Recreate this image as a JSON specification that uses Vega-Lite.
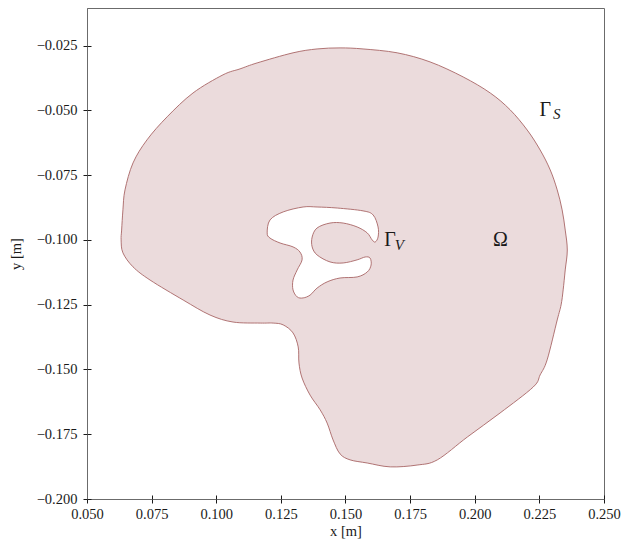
{
  "$schema": "https://vega.github.io/schema/vega-lite/v6.json",
  "width": 517,
  "height": 491,
  "autosize": "none",
  "padding": {"left": 87, "top": 8, "right": 18, "bottom": 48},
  "background": "white",
  "config": {
    "view": {"stroke": "#6b6b6b", "strokeWidth": 1},
    "font": "Liberation Serif",
    "axis": {
      "grid": false,
      "domainColor": "#6b6b6b",
      "tickColor": "#1a1a1a",
      "tickSize": 4,
      "labelFont": "Liberation Serif",
      "labelFontSize": 14.5,
      "labelColor": "#1a1a1a",
      "labelFlush": false,
      "labelOverlap": false,
      "titleFont": "Liberation Serif",
      "titleFontSize": 14.5,
      "titleFontWeight": "normal",
      "titleColor": "#1a1a1a"
    }
  },
  "resolve": {"axis": {"x": "independent", "y": "independent"}},
  "datasets": {
    "shape": [
      {"part": "outer", "i": 1, "x": 0.0632, "y": -0.1000},
      {"part": "outer", "i": 2, "x": 0.0634, "y": -0.0962},
      {"part": "outer", "i": 3, "x": 0.0639, "y": -0.0884},
      {"part": "outer", "i": 4, "x": 0.0647, "y": -0.0807},
      {"part": "outer", "i": 5, "x": 0.0678, "y": -0.0703},
      {"part": "outer", "i": 6, "x": 0.0732, "y": -0.0614},
      {"part": "outer", "i": 7, "x": 0.0810, "y": -0.0525},
      {"part": "outer", "i": 8, "x": 0.0910, "y": -0.0433},
      {"part": "outer", "i": 9, "x": 0.1026, "y": -0.0363},
      {"part": "outer", "i": 10, "x": 0.1092, "y": -0.0340},
      {"part": "outer", "i": 11, "x": 0.1158, "y": -0.0317},
      {"part": "outer", "i": 12, "x": 0.1297, "y": -0.0278},
      {"part": "outer", "i": 13, "x": 0.1390, "y": -0.0263},
      {"part": "outer", "i": 14, "x": 0.1479, "y": -0.0259},
      {"part": "outer", "i": 15, "x": 0.1568, "y": -0.0263},
      {"part": "outer", "i": 16, "x": 0.1700, "y": -0.0278},
      {"part": "outer", "i": 17, "x": 0.1827, "y": -0.0313},
      {"part": "outer", "i": 18, "x": 0.1955, "y": -0.0371},
      {"part": "outer", "i": 19, "x": 0.2060, "y": -0.0433},
      {"part": "outer", "i": 20, "x": 0.2137, "y": -0.0498},
      {"part": "outer", "i": 21, "x": 0.2203, "y": -0.0576},
      {"part": "outer", "i": 22, "x": 0.2253, "y": -0.0653},
      {"part": "outer", "i": 23, "x": 0.2292, "y": -0.0730},
      {"part": "outer", "i": 24, "x": 0.2319, "y": -0.0807},
      {"part": "outer", "i": 25, "x": 0.2338, "y": -0.0884},
      {"part": "outer", "i": 26, "x": 0.2350, "y": -0.0962},
      {"part": "outer", "i": 27, "x": 0.2358, "y": -0.1039},
      {"part": "outer", "i": 28, "x": 0.2350, "y": -0.1116},
      {"part": "outer", "i": 29, "x": 0.2342, "y": -0.1193},
      {"part": "outer", "i": 30, "x": 0.2334, "y": -0.1251},
      {"part": "outer", "i": 31, "x": 0.2319, "y": -0.1309},
      {"part": "outer", "i": 32, "x": 0.2280, "y": -0.1463},
      {"part": "outer", "i": 33, "x": 0.2253, "y": -0.1521},
      {"part": "outer", "i": 34, "x": 0.2226, "y": -0.1568},
      {"part": "outer", "i": 35, "x": 0.2098, "y": -0.1668},
      {"part": "outer", "i": 36, "x": 0.1971, "y": -0.1761},
      {"part": "outer", "i": 37, "x": 0.1855, "y": -0.1849},
      {"part": "outer", "i": 38, "x": 0.1777, "y": -0.1869},
      {"part": "outer", "i": 39, "x": 0.1673, "y": -0.1876},
      {"part": "outer", "i": 40, "x": 0.1584, "y": -0.1861},
      {"part": "outer", "i": 41, "x": 0.1518, "y": -0.1849},
      {"part": "outer", "i": 42, "x": 0.1479, "y": -0.1826},
      {"part": "outer", "i": 43, "x": 0.1452, "y": -0.1772},
      {"part": "outer", "i": 44, "x": 0.1429, "y": -0.1707},
      {"part": "outer", "i": 45, "x": 0.1402, "y": -0.1656},
      {"part": "outer", "i": 46, "x": 0.1363, "y": -0.1599},
      {"part": "outer", "i": 47, "x": 0.1332, "y": -0.1533},
      {"part": "outer", "i": 48, "x": 0.1320, "y": -0.1475},
      {"part": "outer", "i": 49, "x": 0.1317, "y": -0.1413},
      {"part": "outer", "i": 50, "x": 0.1297, "y": -0.1359},
      {"part": "outer", "i": 51, "x": 0.1259, "y": -0.1328},
      {"part": "outer", "i": 52, "x": 0.1220, "y": -0.1321},
      {"part": "outer", "i": 53, "x": 0.1170, "y": -0.1321},
      {"part": "outer", "i": 54, "x": 0.1065, "y": -0.1317},
      {"part": "outer", "i": 55, "x": 0.0976, "y": -0.1290},
      {"part": "outer", "i": 56, "x": 0.0872, "y": -0.1232},
      {"part": "outer", "i": 57, "x": 0.0744, "y": -0.1155},
      {"part": "outer", "i": 58, "x": 0.0678, "y": -0.1104},
      {"part": "outer", "i": 59, "x": 0.0639, "y": -0.1050},
      {"part": "hole", "i": 1, "x": 0.1197, "y": -0.0973},
      {"part": "hole", "i": 2, "x": 0.1208, "y": -0.0923},
      {"part": "hole", "i": 3, "x": 0.1259, "y": -0.0892},
      {"part": "hole", "i": 4, "x": 0.1336, "y": -0.0873},
      {"part": "hole", "i": 5, "x": 0.1390, "y": -0.0873},
      {"part": "hole", "i": 6, "x": 0.1468, "y": -0.0877},
      {"part": "hole", "i": 7, "x": 0.1568, "y": -0.0888},
      {"part": "hole", "i": 8, "x": 0.1607, "y": -0.0904},
      {"part": "hole", "i": 9, "x": 0.1626, "y": -0.0950},
      {"part": "hole", "i": 10, "x": 0.1626, "y": -0.0989},
      {"part": "hole", "i": 11, "x": 0.1615, "y": -0.1008},
      {"part": "hole", "i": 12, "x": 0.1603, "y": -0.1000},
      {"part": "hole", "i": 13, "x": 0.1584, "y": -0.0973},
      {"part": "hole", "i": 14, "x": 0.1545, "y": -0.0950},
      {"part": "hole", "i": 15, "x": 0.1491, "y": -0.0935},
      {"part": "hole", "i": 16, "x": 0.1440, "y": -0.0935},
      {"part": "hole", "i": 17, "x": 0.1390, "y": -0.0954},
      {"part": "hole", "i": 18, "x": 0.1371, "y": -0.0989},
      {"part": "hole", "i": 19, "x": 0.1371, "y": -0.1027},
      {"part": "hole", "i": 20, "x": 0.1390, "y": -0.1058},
      {"part": "hole", "i": 21, "x": 0.1440, "y": -0.1085},
      {"part": "hole", "i": 22, "x": 0.1491, "y": -0.1089},
      {"part": "hole", "i": 23, "x": 0.1545, "y": -0.1077},
      {"part": "hole", "i": 24, "x": 0.1576, "y": -0.1066},
      {"part": "hole", "i": 25, "x": 0.1595, "y": -0.1070},
      {"part": "hole", "i": 26, "x": 0.1599, "y": -0.1097},
      {"part": "hole", "i": 27, "x": 0.1584, "y": -0.1124},
      {"part": "hole", "i": 28, "x": 0.1545, "y": -0.1143},
      {"part": "hole", "i": 29, "x": 0.1479, "y": -0.1147},
      {"part": "hole", "i": 30, "x": 0.1429, "y": -0.1162},
      {"part": "hole", "i": 31, "x": 0.1390, "y": -0.1186},
      {"part": "hole", "i": 32, "x": 0.1363, "y": -0.1213},
      {"part": "hole", "i": 33, "x": 0.1336, "y": -0.1224},
      {"part": "hole", "i": 34, "x": 0.1313, "y": -0.1220},
      {"part": "hole", "i": 35, "x": 0.1297, "y": -0.1193},
      {"part": "hole", "i": 36, "x": 0.1297, "y": -0.1155},
      {"part": "hole", "i": 37, "x": 0.1313, "y": -0.1116},
      {"part": "hole", "i": 38, "x": 0.1332, "y": -0.1077},
      {"part": "hole", "i": 39, "x": 0.1324, "y": -0.1047},
      {"part": "hole", "i": 40, "x": 0.1297, "y": -0.1027},
      {"part": "hole", "i": 41, "x": 0.1247, "y": -0.1012},
      {"part": "hole", "i": 42, "x": 0.1208, "y": -0.0993}
    ],
    "labels": [
      {"kind": "main", "x": 0.2250, "y": -0.0500, "text": "Γ"},
      {"kind": "sub", "x": 0.2303, "y": -0.0515, "text": "S"},
      {"kind": "main", "x": 0.1650, "y": -0.1000, "text": "Γ"},
      {"kind": "sub", "x": 0.1691, "y": -0.1020, "text": "V"},
      {"kind": "main", "x": 0.2071, "y": -0.1000, "text": "Ω"}
    ]
  },
  "layer": [
    {
      "data": {"name": "shape"},
      "transform": [{"filter": "datum.part === 'outer'"}],
      "mark": {"type": "line", "interpolate": "cardinal-closed", "fill": "#ebdbdc", "stroke": "#a86565", "strokeWidth": 0.9, "clip": true},
      "encoding": {
        "x": {"field": "x", "type": "quantitative", "scale": {"domain": [0.05, 0.25], "nice": false, "zero": false},
              "axis": {"orient": "bottom", "title": "x [m]", "values": [0.05, 0.075, 0.1, 0.125, 0.15, 0.175, 0.2, 0.225, 0.25], "format": ".3f", "labelPadding": 4, "titlePadding": 4}},
        "y": {"field": "y", "type": "quantitative", "scale": {"domain": [-0.2, -0.0105], "nice": false, "zero": false},
              "axis": {"orient": "left", "title": "y [m]", "values": [-0.2, -0.175, -0.15, -0.125, -0.1, -0.075, -0.05, -0.025], "format": ".3f", "labelPadding": 6, "titlePadding": 13}},
        "order": {"field": "i", "type": "quantitative"}
      }
    },
    {
      "data": {"name": "shape"},
      "transform": [{"filter": "datum.part === 'hole'"}],
      "mark": {"type": "line", "interpolate": "cardinal-closed", "fill": "white", "stroke": "#a86565", "strokeWidth": 0.9},
      "encoding": {
        "x": {"field": "x", "type": "quantitative",
              "axis": {"orient": "bottom", "title": null, "labels": false, "domain": false, "tickSize": -4, "values": [0.05, 0.075, 0.1, 0.125, 0.15, 0.175, 0.2, 0.225, 0.25]}},
        "y": {"field": "y", "type": "quantitative",
              "axis": {"orient": "left", "title": null, "labels": false, "domain": false, "tickSize": -4, "values": [-0.2, -0.175, -0.15, -0.125, -0.1, -0.075, -0.05, -0.025]}},
        "order": {"field": "i", "type": "quantitative"}
      }
    },
    {
      "data": {"name": "labels"},
      "transform": [{"filter": "datum.kind === 'main'"}],
      "mark": {"type": "text", "align": "left", "baseline": "middle", "font": "Liberation Serif", "fontSize": 20, "color": "#1a1a1a"},
      "encoding": {
        "x": {"field": "x", "type": "quantitative", "axis": null},
        "y": {"field": "y", "type": "quantitative", "axis": null},
        "text": {"field": "text"}
      }
    },
    {
      "data": {"name": "labels"},
      "transform": [{"filter": "datum.kind === 'sub'"}],
      "mark": {"type": "text", "align": "left", "baseline": "middle", "font": "Liberation Serif", "fontSize": 15, "fontStyle": "italic", "color": "#1a1a1a"},
      "encoding": {
        "x": {"field": "x", "type": "quantitative", "axis": null},
        "y": {"field": "y", "type": "quantitative", "axis": null},
        "text": {"field": "text"}
      }
    }
  ]
}
